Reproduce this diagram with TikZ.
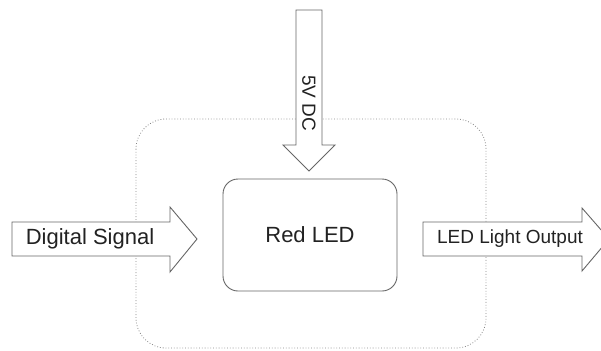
\documentclass[tikz,border=0pt]{standalone}
\usepackage{fontspec}
\setmainfont{Liberation Sans}
\usepackage{tikz}
\usetikzlibrary{calc}
\definecolor{edgegray}{HTML}{666666}
\definecolor{txtgray}{HTML}{222222}

\begin{document}
\begin{tikzpicture}[x=1pt,y=-1pt,
  blockarrow/.style={draw=edgegray,fill=white,line width=0.9pt,line join=miter},
  lbl/.style={text=txtgray,inner sep=0pt,font=\fontsize{22}{26}\selectfont},
  lblsmall/.style={text=txtgray,inner sep=0pt,font=\fontsize{19}{23}\selectfont}]
\clip (0,0) rectangle (601,350);
% outer boundary
\draw[edgegray!80,dotted,line width=0.8pt,rounded corners=30pt] (136,119) rectangle (486,348);
% supply arrow
\draw[blockarrow] (296,10) -- (322,10) -- (322,145) -- (335,145) -- (309,171) -- (283,145) -- (296,145) -- cycle;
\node[lblsmall,rotate=-90] (supply) at (309,103) {5V DC};
% input arrow
\draw[blockarrow] (12,222) -- (170,222) -- (170,207) -- (197,239) -- (170,272) -- (170,256) -- (12,256) -- cycle;
\node[lbl] (input) at (90,239) {Digital Signal};
% led
\draw[edgegray,line width=0.9pt,rounded corners=15pt] (223,179) rectangle (397,291);
\node[lbl] (led) at (310,235) {Red LED};
% output arrow
\draw[blockarrow] (423,222) -- (582,222) -- (582,208) -- (609,239) -- (582,271) -- (582,256) -- (423,256) -- cycle;
\node[lblsmall] (output) at (510,239) {LED Light Output};
\end{tikzpicture}
\end{document}
